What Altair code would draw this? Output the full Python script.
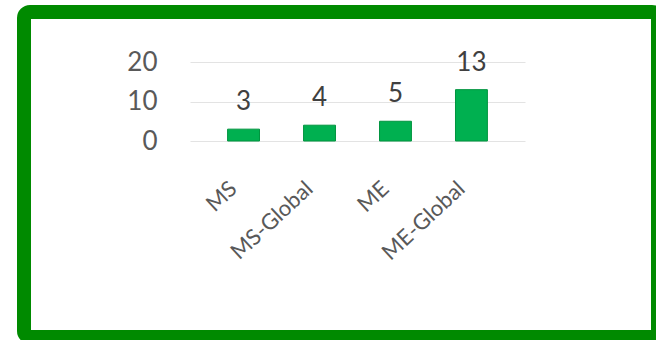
import altair as alt
import pandas as pd

categories = ["MS", "MS-Global", "ME", "ME-Global"]
values = [3, 4, 5, 13]
y_ticks = [0, 10, 20]

df = pd.DataFrame({"category": categories, "value": values})

FONT = "Lato"
GREEN = "#00B050"

base = alt.Chart(df)

x_enc = alt.X(
    "category:N",
    sort=categories,
    scale=alt.Scale(paddingInner=0.58, paddingOuter=0.495),
    axis=alt.Axis(
        title=None, labelAngle=-43, labelAlign="right", labelBaseline="middle",
        labelFont=FONT, labelFontSize=22, labelColor="#595959",
        labelPadding=44, labelOffset=-10, domain=False, ticks=False, grid=False,
        labelOverlap=False,
    ),
)
y_enc = alt.Y(
    "value:Q",
    scale=alt.Scale(domain=[0, 20], nice=False),
    axis=alt.Axis(
        title=None, values=y_ticks, tickCount=3, labelFont=FONT, labelFontSize=26,
        labelColor="#595959", labelPadding=33, domain=False, ticks=False,
        grid=True, gridColor="#E3E3E3", gridWidth=1, labelOverlap=False,
        labelBound=False, labelFlush=False,
    ),
)

frame = alt.Chart(alt.Data(values=[{"k": 1}])).mark_rect(
    filled=False, stroke="#008A00", strokeWidth=14, cornerRadius=6, clip=False
).encode(
    x=alt.value(-166), x2=alt.value(468), y=alt.value(-50), y2=alt.value(275)
)

bars = base.mark_bar(color=GREEN, stroke="#00943F", strokeWidth=1).encode(
    x=x_enc, y=y_enc
)

labels = base.mark_text(
    font=FONT, fontSize=26, color="#404040", baseline="bottom", dy=-14
).encode(
    x=x_enc, y=y_enc, text="value:Q"
)

chart = alt.layer(frame, bars, labels).properties(
    width=335, height=79,
    autosize=alt.AutoSizeParams(type="none"),
    padding={"left": 190, "top": 62, "right": 131, "bottom": 199},
    background="white",
).configure_view(stroke=None)

chart.save("out.html", embed_options={"renderer": "svg", "actions": False})
